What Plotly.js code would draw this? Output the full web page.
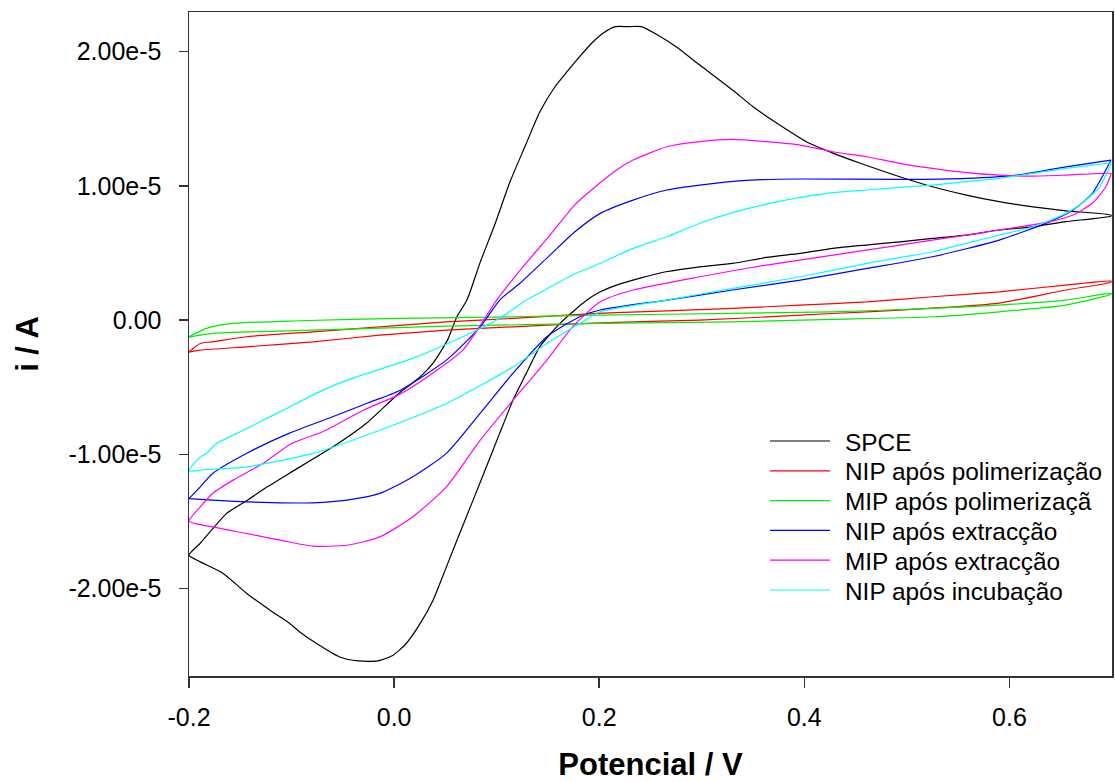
<!DOCTYPE html>
<html>
<head>
<meta charset="utf-8">
<script src="https://cdn.plot.ly/plotly-3.0.1.min.js"></script>
<style>html,body{margin:0;padding:0;background:#fff;}#chart{width:1115px;height:782px;}</style>
</head>
<body>
<div id="chart"></div>
<script>
// Series names and colours
const seriesNames = ["SPCE", "NIP após polimerização", "MIP após polimerizaçã", "NIP após extracção", "MIP após extracção", "NIP após incubação"];
const seriesColors = ["#000000", "#ff0000", "#00ee00", "#0000ff", "#ff00ff", "#00ffff"];

// Tick labels
const xTickVals = [-0.2, 0.0, 0.2, 0.4, 0.6];
const xTickText = ["-0.2", "0.0", "0.2", "0.4", "0.6"];
const yTickVals = [-2e-5, -1e-5, 0, 1e-5, 2e-5];
const yTickText = ["-2.00e-5", "-1.00e-5", "0.00", "1.00e-5", "2.00e-5"];

// Potential (V) and current (units of 1e-5 A); forward scan then reverse scan
const spcePotential = [-0.2, -0.189, -0.163, -0.143, -0.124, -0.102, -0.060, -0.027, 0.004, 0.025, 0.038, 0.052, 0.061, 0.071, 0.084, 0.098, 0.113, 0.128, 0.142, 0.157, 0.168, 0.178, 0.194, 0.204, 0.216, 0.229, 0.241, 0.257, 0.275, 0.298, 0.330, 0.350, 0.373, 0.402, 0.428, 0.454, 0.493, 0.525, 0.558, 0.590, 0.623, 0.655, 0.699,
  0.699, 0.655, 0.623, 0.590, 0.558, 0.525, 0.493, 0.460, 0.428, 0.396, 0.363, 0.330, 0.298, 0.265, 0.240, 0.217, 0.201, 0.188, 0.162, 0.142, 0.129, 0.116, 0.103, 0.090, 0.077, 0.064, 0.051, 0.038, 0.025, 0.012, -0.001, -0.016, -0.035, -0.053, -0.076, -0.092, -0.102, -0.121, -0.144, -0.167, -0.189, -0.2];
const spceCurrent = [-1.751, -1.662, -1.438, -1.341, -1.244, -1.140, -0.946, -0.768, -0.550, -0.425, -0.320, -0.149, 0.022, 0.149, 0.432, 0.708, 1.030, 1.300, 1.550, 1.740, 1.845, 1.937, 2.073, 2.139, 2.186, 2.186, 2.186, 2.124, 2.036, 1.900, 1.714, 1.589, 1.468, 1.329, 1.244, 1.170, 1.068, 0.993, 0.931, 0.882, 0.844, 0.814, 0.782,
  0.775, 0.733, 0.695, 0.671, 0.633, 0.609, 0.583, 0.559, 0.534, 0.497, 0.467, 0.422, 0.397, 0.360, 0.313, 0.261, 0.211, 0.149, -0.022, -0.199, -0.395, -0.596, -0.842, -1.093, -1.341, -1.587, -1.838, -2.086, -2.265, -2.407, -2.496, -2.539, -2.539, -2.509, -2.407, -2.323, -2.258, -2.161, -2.034, -1.885, -1.801, -1.751];

const nipPolPotential = [-0.2, -0.189, -0.177, -0.144, -0.079, -0.014, 0.051, 0.116, 0.197, 0.266, 0.330, 0.396, 0.461, 0.525, 0.590, 0.655, 0.699,
  0.699, 0.655, 0.590, 0.525, 0.461, 0.396, 0.298, 0.201, 0.116, 0.051, -0.014, -0.079, -0.144, -0.189, -0.2];
const nipPolCurrent = [-0.236, -0.174, -0.162, -0.124, -0.087, -0.050, -0.013, 0.013, 0.050, 0.069, 0.087, 0.112, 0.136, 0.174, 0.211, 0.261, 0.291,
  0.283, 0.224, 0.127, 0.089, 0.062, 0.037, 0.000, -0.020, -0.050, -0.075, -0.112, -0.162, -0.199, -0.224, -0.238];

const mipPolPotential = [-0.2, -0.183, -0.157, -0.092, 0.006, 0.116, 0.201, 0.330, 0.428, 0.525, 0.590, 0.655, 0.699,
  0.699, 0.655, 0.590, 0.525, 0.428, 0.330, 0.201, 0.051, -0.079, -0.177, -0.2];
const mipPolCurrent = [-0.124, -0.062, -0.025, -0.005, 0.013, 0.025, 0.037, 0.050, 0.062, 0.087, 0.112, 0.149, 0.199,
  0.194, 0.112, 0.062, 0.025, 0.005, -0.013, -0.025, -0.045, -0.075, -0.099, -0.127];

const nipExtPotential = [-0.2, -0.189, -0.177, -0.144, -0.102, -0.060, -0.027, 0.006, 0.051, 0.084, 0.103, 0.123, 0.152, 0.176, 0.201, 0.233, 0.266, 0.298, 0.347, 0.396, 0.493, 0.558, 0.607, 0.655, 0.699,
  0.699, 0.681, 0.662, 0.639, 0.590, 0.525, 0.461, 0.396, 0.330, 0.266, 0.201, 0.181, 0.149, 0.116, 0.084, 0.051, 0.018, -0.014, -0.046, -0.079, -0.111, -0.144, -0.177, -0.2];
const nipExtCurrent = [-1.329, -1.242, -1.142, -0.993, -0.842, -0.720, -0.621, -0.522, -0.298, -0.050, 0.149, 0.276, 0.484, 0.656, 0.795, 0.894, 0.969, 1.006, 1.043, 1.051, 1.048, 1.056, 1.080, 1.142, 1.192,
  1.192, 0.946, 0.820, 0.732, 0.596, 0.472, 0.385, 0.298, 0.224, 0.149, 0.075, 0.025, -0.124, -0.395, -0.693, -0.993, -1.168, -1.291, -1.341, -1.361, -1.361, -1.354, -1.341, -1.330];

const mipExtPotential = [-0.2, -0.189, -0.177, -0.157, -0.128, -0.100, -0.069, -0.030, 0.004, 0.018, 0.067, 0.100, 0.123, 0.152, 0.176, 0.201, 0.217, 0.233, 0.266, 0.298, 0.330, 0.363, 0.396, 0.428, 0.461, 0.493, 0.525, 0.558, 0.590, 0.623, 0.655, 0.699,
  0.699, 0.694, 0.681, 0.662, 0.639, 0.590, 0.558, 0.493, 0.428, 0.363, 0.298, 0.233, 0.201, 0.174, 0.149, 0.116, 0.084, 0.051, 0.018, -0.014, -0.046, -0.079, -0.111, -0.144, -0.177, -0.2];
const mipExtCurrent = [-1.498, -1.391, -1.291, -1.192, -1.068, -0.919, -0.830, -0.671, -0.559, -0.497, -0.224, 0.149, 0.373, 0.633, 0.857, 1.023, 1.118, 1.192, 1.291, 1.329, 1.346, 1.329, 1.304, 1.254, 1.217, 1.168, 1.130, 1.098, 1.080, 1.073, 1.080, 1.093,
  1.088, 0.993, 0.872, 0.783, 0.732, 0.671, 0.633, 0.559, 0.484, 0.410, 0.323, 0.224, 0.136, -0.050, -0.298, -0.596, -0.894, -1.242, -1.466, -1.615, -1.677, -1.684, -1.639, -1.589, -1.540, -1.498];

const nipIncPotential = [-0.2, -0.189, -0.183, -0.173, -0.157, -0.134, -0.105, -0.076, -0.046, 0.018, 0.067, 0.100, 0.129, 0.152, 0.176, 0.201, 0.233, 0.266, 0.298, 0.330, 0.363, 0.396, 0.428, 0.461, 0.493, 0.525, 0.558, 0.590, 0.623, 0.655, 0.699,
  0.699, 0.688, 0.671, 0.655, 0.623, 0.590, 0.558, 0.525, 0.461, 0.396, 0.330, 0.266, 0.201, 0.181, 0.149, 0.116, 0.051, -0.014, -0.079, -0.144, -0.183, -0.2];
const nipIncCurrent = [-1.123, -1.019, -0.993, -0.919, -0.857, -0.770, -0.658, -0.546, -0.447, -0.285, -0.124, 0.000, 0.149, 0.246, 0.343, 0.423, 0.534, 0.621, 0.721, 0.800, 0.864, 0.914, 0.949, 0.969, 0.989, 1.006, 1.031, 1.056, 1.093, 1.130, 1.168,
  1.162, 0.993, 0.872, 0.795, 0.695, 0.633, 0.572, 0.509, 0.423, 0.323, 0.236, 0.149, 0.062, -0.025, -0.174, -0.348, -0.621, -0.820, -0.993, -1.093, -1.113, -1.123];

const potentials = [spcePotential, nipPolPotential, mipPolPotential, nipExtPotential, mipExtPotential, nipIncPotential];
const currents = [spceCurrent, nipPolCurrent, mipPolCurrent, nipExtCurrent, mipExtCurrent, nipIncCurrent];
const CURRENT_UNIT = 1e-5;

const FONT = "Liberation Sans, Arial, Helvetica, sans-serif";

const traces = seriesNames.map((name, k) => ({
  type: "scatter",
  mode: "lines",
  name: name,
  x: potentials[k],
  y: currents[k].map(v => v * CURRENT_UNIT),
  line: {color: seriesColors[k], width: 1.2, shape: "spline", smoothing: 0.6},
  showlegend: false,
  hoverinfo: "x+y+name"
}));

// Custom legend (line sample + text) laid out in paper coordinates
const plotL = 189, plotR = 1112, plotT = 12, plotB = 676;
const px2paperX = p => (p - plotL) / (plotR - plotL);
const px2paperY = p => (plotB - p) / (plotB - plotT);
const legendTop = 441, legendStep = 29.8;
const shapes = [];
const annotations = [];
seriesNames.forEach((name, k) => {
  const yc = legendTop + k * legendStep;
  shapes.push({type: "line", xref: "paper", yref: "paper",
    x0: px2paperX(770), x1: px2paperX(830), y0: px2paperY(yc), y1: px2paperY(yc),
    line: {color: seriesColors[k], width: 1.2}});
  annotations.push({xref: "paper", yref: "paper", x: px2paperX(843), y: px2paperY(yc + 1),
    xanchor: "left", yanchor: "middle", showarrow: false, text: name,
    font: {family: FONT, size: 24.4, color: "#000"}});
});

const layout = {
  width: 1115, height: 782,
  margin: {l: plotL, r: 1115 - plotR, t: plotT, b: 782 - plotB},
  paper_bgcolor: "#fff", plot_bgcolor: "#fff",
  showlegend: false,
  font: {family: FONT, color: "#000"},
  xaxis: {
    range: [-0.2, 0.7], tickvals: xTickVals, ticktext: xTickText,
    ticks: "outside", ticklen: 10, tickwidth: 1.5, tickcolor: "#333",
    showline: true, linecolor: "#333", linewidth: 1.5, mirror: true,
    showgrid: false, zeroline: false,
    tickfont: {family: FONT, size: 25, color: "#000"},
    ticklabelstandoff: 8,
    title: {text: "<b>Potencial / V</b>", font: {family: FONT, size: 31, color: "#000"}, standoff: 30}
  },
  yaxis: {
    range: [-2.651e-5, 2.295e-5], tickvals: yTickVals, ticktext: yTickText,
    ticks: "outside", ticklen: 9, tickwidth: 1.5, tickcolor: "#333",
    showline: true, linecolor: "#333", linewidth: 1.5, mirror: true,
    showgrid: false, zeroline: false,
    tickfont: {family: FONT, size: 25, color: "#000"},
    ticklabelstandoff: 12,
    title: {text: "<b>i / A</b>", font: {family: FONT, size: 31, color: "#000"}, standoff: 20}
  },
  shapes: shapes,
  annotations: annotations
};

Plotly.newPlot("chart", traces, layout, {staticPlot: true, displayModeBar: false});
</script>
</body>
</html>
